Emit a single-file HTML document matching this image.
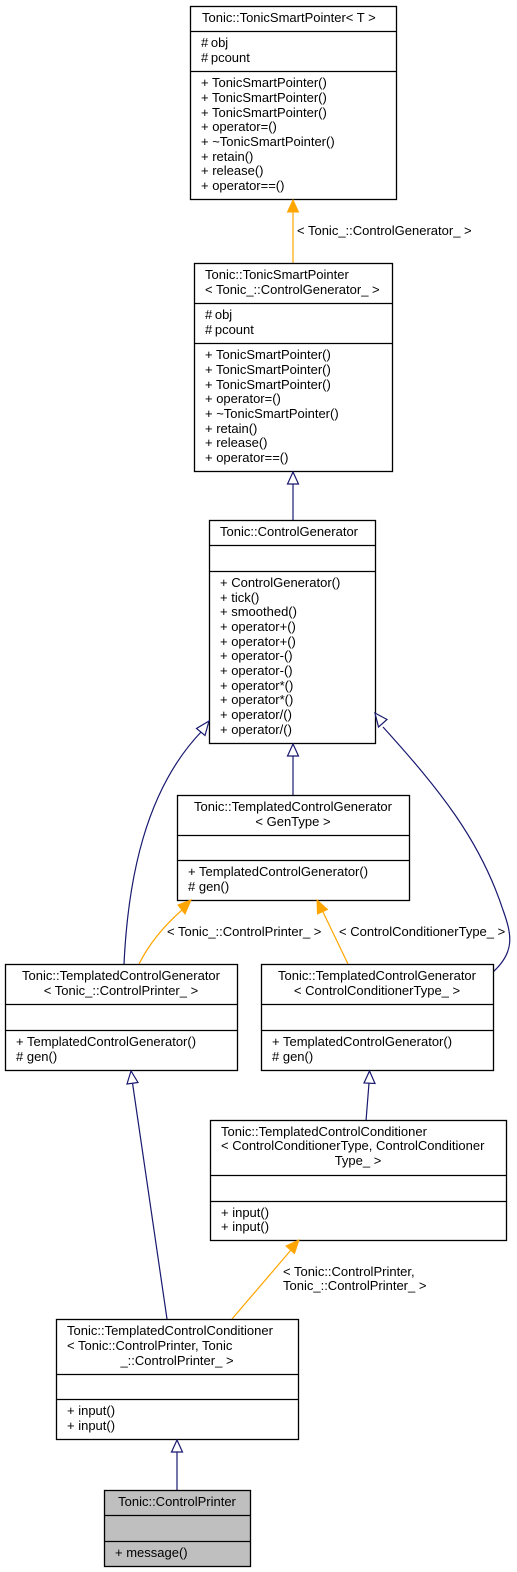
<!DOCTYPE html>
<html><head><meta charset="utf-8"><style>
html,body{margin:0;padding:0;background:#fff;}
svg{display:block;}
text{font-family:"Liberation Sans",sans-serif;font-size:13px;fill:#000;}
.b{fill:#fff;stroke:#000;stroke-width:1.3;}
.g{fill:#bfbfbf;stroke:#000;stroke-width:1.3;}
.n{fill:none;stroke:#191970;stroke-width:1.2;}
.o{fill:none;stroke:#ffa500;stroke-width:1.2;}
.ha{fill:#fff;stroke:#191970;stroke-width:1.2;}
.oa{fill:#ffa500;stroke:#ffa500;}
</style></head><body>
<svg width="517" height="1572" viewBox="0 0 517 1572" xmlns="http://www.w3.org/2000/svg">
<!-- Box1 -->
<rect class="b" x="190.5" y="6.5" width="206" height="193"/>
<line class="b" x1="190.5" y1="31.5" x2="396.5" y2="31.5"/>
<line class="b" x1="190.5" y1="71.5" x2="396.5" y2="71.5"/>
<text x="202" y="22">Tonic::TonicSmartPointer&lt; T &gt;</text>
<text x="201" y="47">#&#8201;obj</text>
<text x="201" y="62">#&#8201;pcount</text>
<text x="201" y="87">+ TonicSmartPointer()</text>
<text x="201" y="102">+ TonicSmartPointer()</text>
<text x="201" y="117">+ TonicSmartPointer()</text>
<text x="201" y="131">+ operator=()</text>
<text x="201" y="146">+ ~TonicSmartPointer()</text>
<text x="201" y="161">+ retain()</text>
<text x="201" y="175">+ release()</text>
<text x="201" y="190">+ operator==()</text>
<!-- edge 2->1 -->
<line class="o" x1="293" y1="263" x2="293" y2="212"/>
<polygon class="oa" points="293,200 287.5,212 298.5,212"/>
<text x="297" y="235">&lt; Tonic_::ControlGenerator_ &gt;</text>
<!-- Box2 -->
<rect class="b" x="194.5" y="263.5" width="198" height="208"/>
<line class="b" x1="194.5" y1="303.5" x2="392.5" y2="303.5"/>
<line class="b" x1="194.5" y1="343.5" x2="392.5" y2="343.5"/>
<text x="205" y="279">Tonic::TonicSmartPointer</text>
<text x="205" y="294">&lt; Tonic_::ControlGenerator_ &gt;</text>
<text x="205" y="319">#&#8201;obj</text>
<text x="205" y="334">#&#8201;pcount</text>
<text x="205" y="359">+ TonicSmartPointer()</text>
<text x="205" y="374">+ TonicSmartPointer()</text>
<text x="205" y="389">+ TonicSmartPointer()</text>
<text x="205" y="403">+ operator=()</text>
<text x="205" y="418">+ ~TonicSmartPointer()</text>
<text x="205" y="433">+ retain()</text>
<text x="205" y="447">+ release()</text>
<text x="205" y="462">+ operator==()</text>
<!-- edge 3->2 -->
<line class="n" x1="293" y1="520" x2="293" y2="484"/>
<polygon class="ha" points="293,472 287.5,484 298.5,484"/>
<!-- Box3 -->
<rect class="b" x="209.5" y="520.5" width="166" height="223"/>
<line class="b" x1="209.5" y1="545.5" x2="375.5" y2="545.5"/>
<line class="b" x1="209.5" y1="571.5" x2="375.5" y2="571.5"/>
<text x="220" y="536">Tonic::ControlGenerator</text>
<text x="220" y="587">+ ControlGenerator()</text>
<text x="220" y="602">+ tick()</text>
<text x="220" y="616">+ smoothed()</text>
<text x="220" y="631">+ operator+()</text>
<text x="220" y="646">+ operator+()</text>
<text x="220" y="660">+ operator-()</text>
<text x="220" y="675">+ operator-()</text>
<text x="220" y="690">+ operator*()</text>
<text x="220" y="704">+ operator*()</text>
<text x="220" y="719">+ operator/()</text>
<text x="220" y="734">+ operator/()</text>
<!-- edge 4->3 -->
<line class="n" x1="293" y1="795" x2="293" y2="756"/>
<polygon class="ha" points="293,744 287.5,756 298.5,756"/>
<!-- edge 5->3 curve -->
<path class="n" d="M124,964 C128,880 145,790 202,731"/>
<polygon class="ha" points="209,721 196.5,728.5 205,735.5"/>
<!-- edge 6->3 curve -->
<path class="n" d="M493,972 C515,952 512,935 503,910 C480,840 440,790 383,727"/>
<polygon class="ha" points="375,713 378.5,727 387,719.5"/>
<!-- Box4 -->
<rect class="b" x="177.5" y="795.5" width="232" height="105"/>
<line class="b" x1="177.5" y1="835.5" x2="409.5" y2="835.5"/>
<line class="b" x1="177.5" y1="860.5" x2="409.5" y2="860.5"/>
<text x="293" y="811" text-anchor="middle">Tonic::TemplatedControlGenerator</text>
<text x="293" y="826" text-anchor="middle">&lt; GenType &gt;</text>
<text x="188" y="876">+ TemplatedControlGenerator()</text>
<text x="188" y="891"># gen()</text>
<!-- orange 5->4 -->
<path class="o" d="M139,964 C150,942 165,925 182,910"/>
<polygon class="oa" points="191,900 178,905 185,914"/>
<text x="167" y="936">&lt; Tonic_::ControlPrinter_ &gt;</text>
<!-- orange 6->4 -->
<line class="o" x1="348" y1="964" x2="323" y2="912"/>
<polygon class="oa" points="317,900 317.5,914 327.5,909.5"/>
<text x="339" y="936">&lt; ControlConditionerType_ &gt;</text>
<!-- Box5 -->
<rect class="b" x="5.5" y="964.5" width="232" height="106"/>
<line class="b" x1="5.5" y1="1004.5" x2="237.5" y2="1004.5"/>
<line class="b" x1="5.5" y1="1030.5" x2="237.5" y2="1030.5"/>
<text x="121" y="980" text-anchor="middle">Tonic::TemplatedControlGenerator</text>
<text x="121" y="995" text-anchor="middle">&lt; Tonic_::ControlPrinter_ &gt;</text>
<text x="16" y="1046">+ TemplatedControlGenerator()</text>
<text x="16" y="1061"># gen()</text>
<!-- Box6 -->
<rect class="b" x="261.5" y="964.5" width="232" height="106"/>
<line class="b" x1="261.5" y1="1004.5" x2="493.5" y2="1004.5"/>
<line class="b" x1="261.5" y1="1030.5" x2="493.5" y2="1030.5"/>
<text x="377" y="980" text-anchor="middle">Tonic::TemplatedControlGenerator</text>
<text x="377" y="995" text-anchor="middle">&lt; ControlConditionerType_ &gt;</text>
<text x="272" y="1046">+ TemplatedControlGenerator()</text>
<text x="272" y="1061"># gen()</text>
<!-- edge 7->6 -->
<line class="n" x1="366" y1="1121" x2="369" y2="1083"/>
<polygon class="ha" points="369.5,1071 364,1083 375,1083.5"/>
<!-- edge 8->5 -->
<line class="n" x1="167" y1="1319" x2="132.5" y2="1083"/>
<polygon class="ha" points="131,1071 127,1084 138,1082.5"/>
<!-- Box7 -->
<rect class="b" x="210.5" y="1120.5" width="296" height="120"/>
<line class="b" x1="210.5" y1="1175.5" x2="506.5" y2="1175.5"/>
<line class="b" x1="210.5" y1="1201.5" x2="506.5" y2="1201.5"/>
<text x="221" y="1136">Tonic::TemplatedControlConditioner</text>
<text x="221" y="1150">&lt; ControlConditionerType, ControlConditioner</text>
<text x="358" y="1165" text-anchor="middle">Type_ &gt;</text>
<text x="221" y="1217">+ input()</text>
<text x="221" y="1231">+ input()</text>
<!-- orange 8->7 -->
<line class="o" x1="232" y1="1319" x2="291" y2="1250"/>
<polygon class="oa" points="299,1240 286,1246 294.5,1253.5"/>
<text x="283" y="1276">&lt; Tonic::ControlPrinter,</text>
<text x="283" y="1290">Tonic_::ControlPrinter_ &gt;</text>
<!-- Box8 -->
<rect class="b" x="56.5" y="1319.5" width="242" height="120"/>
<line class="b" x1="56.5" y1="1374.5" x2="298.5" y2="1374.5"/>
<line class="b" x1="56.5" y1="1399.5" x2="298.5" y2="1399.5"/>
<text x="67" y="1335">Tonic::TemplatedControlConditioner</text>
<text x="67" y="1350">&lt; Tonic::ControlPrinter, Tonic</text>
<text x="177" y="1365" text-anchor="middle">_::ControlPrinter_ &gt;</text>
<text x="67" y="1415">+ input()</text>
<text x="67" y="1430">+ input()</text>
<!-- edge 9->8 -->
<line class="n" x1="177" y1="1490" x2="177" y2="1452"/>
<polygon class="ha" points="177,1440 171.5,1452 182.5,1452"/>
<!-- Box9 -->
<rect class="g" x="104.5" y="1490.5" width="146" height="76"/>
<line class="g" x1="104.5" y1="1515.5" x2="250.5" y2="1515.5"/>
<line class="g" x1="104.5" y1="1541.5" x2="250.5" y2="1541.5"/>
<text x="177" y="1506" text-anchor="middle">Tonic::ControlPrinter</text>
<text x="115" y="1557">+ message()</text>
</svg>
</body></html>
